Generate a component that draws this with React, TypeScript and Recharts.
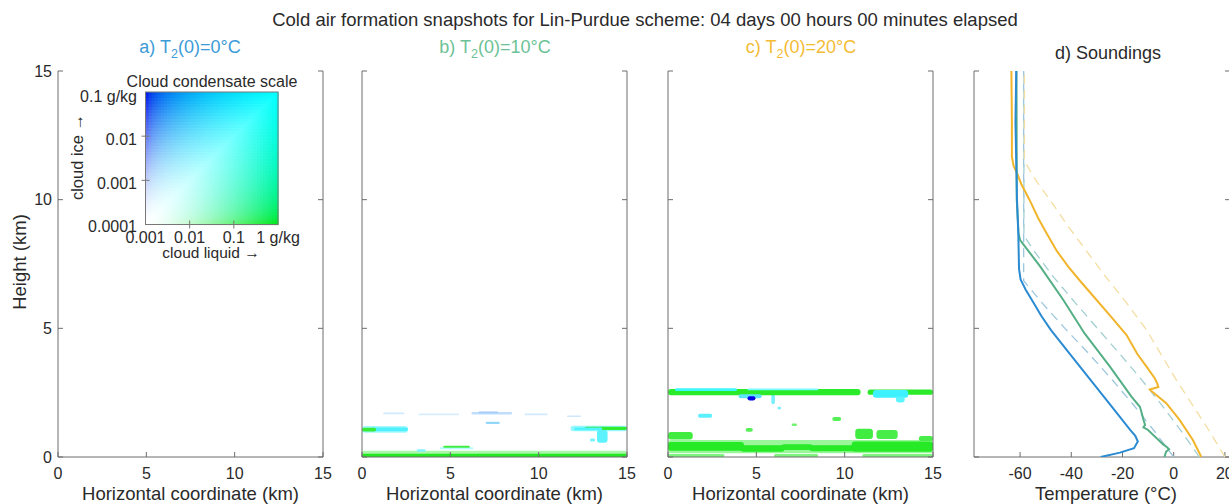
import React from 'react';
import { ScatterChart, Scatter, XAxis, YAxis, ReferenceArea } from 'recharts';

const FONT = '"Liberation Sans", Arial, Helvetica, sans-serif';
const AXIS = '#6d6d6d';
const INK = '#2a2a2a';

const xTicks = [0, 5, 10, 15];
const zTicks = [0, 5, 10, 15];
const tTicks = [-60, -40, -20, 0, 20];

// soundings: height (km) and temperature (°C)
const zBlue = [0, 0.17, 0.34, 0.6, 0.82, 1.05, 2, 3, 4, 4.94, 5.5, 6, 6.5, 6.9, 7.3, 8.7, 10, 12, 13, 15];
const tBlue = [-28.5, -21, -15.5, -14, -15, -17, -24.5, -32.5, -40.5, -48, -51.8, -54.8, -57.8, -59.8, -60.4, -60.7, -61.2, -61.6, -61.8, -61.5];

const zGreen = [0, 0.2, 0.3, 0.38, 0.5, 1.05, 1.15, 1.25, 1.45, 1.75, 1.95, 2.35, 3.51, 4.8, 6.1, 7.4, 8.43, 8.69, 10, 15];
const tGreen = [-3.6, -3.0, -1.8, -2.6, -4.2, -10, -11.8, -11.2, -11.8, -12.6, -13.2, -16.5, -24.9, -34.8, -43.1, -52.1, -60, -60.6, -61.3, -61.4];

const zYellow = [0, 0.66, 1.44, 2.09, 2.55, 2.62, 2.72, 2.85, 3.06, 3.51, 4.0, 4.74, 5.4, 6.1, 6.8, 7.4, 8.0, 8.69, 9.3, 9.99, 10.6, 11.03, 11.3, 11.67, 13, 15];
const tYellow = [10.8, 7.5, 2.3, -2.9, -8.6, -9.3, -6.0, -6.4, -7.4, -10.6, -14.2, -18.4, -24, -30.1, -36.2, -41.2, -45.6, -49.6, -53, -56.3, -59.5, -61.2, -62.5, -63.2, -63.2, -63.4];

// initial soundings (dashed)
const zBlue0 = [0, 1, 2, 3, 4, 5, 6, 6.85, 15];
const tBlue0 = [0, -7.5, -15.5, -24, -33, -42.5, -51.5, -58.6, -58.6];
const zGreen0 = [0, 1, 2, 3, 4, 5, 6, 7, 8, 8.6, 15];
const tGreen0 = [10, 3, -4.5, -12.5, -21, -29.8, -38.5, -47, -54.5, -58.5, -58.5];
const zYellow0 = [0, 1, 2, 3, 4, 4.94, 6, 7, 8, 9, 9.8, 10.7, 11.5, 15];
const tYellow0 = [20, 14, 7.5, 1, -5, -10.6, -18.5, -26.5, -34, -41.5, -47, -53.5, -58.3, -58.3];

// cloud patches: [x1 km, x2 km, z1 km, z2 km, liquid g/kg, ice g/kg]
const cloudsB: number[][] = [
  [0, 15, 0.08, 0.24, 0.02, 0],
  [0, 15, 0, 0.13, 0.5, 0],
  [3.1, 3.6, 0.2, 0.3, 0.02, 0.006],
  [4.4, 6.3, 0.3, 0.38, 0.015, 0.002],
  [4.6, 6.1, 0.36, 0.44, 0.25, 0],
  [0, 2.6, 0.94, 1.2, 0.015, 0.003],
  [0.5, 2.6, 1.0, 1.15, 0.06, 0.02],
  [0, 0.8, 0.99, 1.14, 0.3, 0],
  [11.8, 15, 1.0, 1.21, 0.02, 0.004],
  [12.6, 15, 1.05, 1.18, 0.35, 0],
  [12.0, 13.6, 1.04, 1.15, 0.08, 0.02],
  [13.3, 13.9, 0.55, 1.05, 0.05, 0.015],
  [12.9, 13.2, 0.6, 0.72, 0.03, 0.008],
  [1.2, 2.4, 1.66, 1.73, 0.0015, 0.0007],
  [3.2, 5.5, 1.62, 1.69, 0.0015, 0.0006],
  [6.2, 8.5, 1.65, 1.75, 0.0015, 0.0012],
  [6.6, 7.7, 1.7, 1.77, 0.0015, 0.0025],
  [9.2, 10.5, 1.62, 1.69, 0.0015, 0.0007],
  [11.6, 12.4, 1.55, 1.61, 0.0015, 0.0008],
  [7.0, 7.8, 1.28, 1.37, 0.003, 0.004],
];

const cloudsC: number[][] = [
  [0, 15, 0.15, 0.66, 0.03, 0],
  [0, 3.2, 0, 0.12, 0.06, 0],
  [6.0, 8.5, 0, 0.12, 0.06, 0],
  [11, 15, 0, 0.12, 0.06, 0],
  [0, 4.3, 0.24, 0.58, 0.45, 0],
  [4.1, 6.6, 0.2, 0.46, 0.45, 0],
  [6.4, 8.2, 0.27, 0.5, 0.4, 0],
  [8.0, 10.6, 0.22, 0.46, 0.45, 0],
  [10.4, 15, 0.2, 0.6, 0.45, 0],
  [0, 1.4, 0.68, 0.97, 0.25, 0],
  [10.6, 11.6, 0.7, 1.1, 0.25, 0],
  [11.8, 13.0, 0.7, 1.05, 0.2, 0],
  [14.2, 15, 0.62, 0.82, 0.2, 0],
  [4.4, 4.8, 0.98, 1.13, 0.15, 0],
  [7.0, 7.3, 1.2, 1.3, 0.08, 0],
  [9.3, 9.8, 1.4, 1.55, 0.15, 0],
  [1.7, 2.5, 1.53, 1.68, 0.04, 0.015],
  [6.2, 6.4, 1.85, 1.95, 0.02, 0.008],
  [5.85, 6.05, 2.05, 2.45, 0.02, 0.008],
  [0, 10.9, 2.4, 2.64, 0.4, 0],
  [11.3, 15, 2.42, 2.62, 0.4, 0],
  [0.4, 3.9, 2.56, 2.67, 0.15, 0.03],
  [4.5, 8.5, 2.59, 2.66, 0.06, 0.008],
  [11.6, 13.6, 2.3, 2.6, 0.1, 0.03],
  [12.9, 13.4, 2.12, 2.35, 0.06, 0.015],
  [4.0, 5.3, 2.28, 2.44, 0.02, 0.015],
  [4.5, 4.95, 2.2, 2.36, 0.001, 0.1],
];

const pts = (z: number[], t: number[]) => z.map((v, i) => ({ z: v, t: t[i] }));

// 2-D colour scale: liquid -> green, ice -> blue, both -> cyan
const hsv = (h: number, s: number, v: number) => {
  const f = (n: number) => {
    const k = (n + h / 60) % 6;
    return v - v * s * Math.max(0, Math.min(k, 4 - k, 1));
  };
  return [f(5), f(3), f(1)];
};
const mixColor = (a: number, b: number) => {
  const s = Math.pow(Math.max(a, b), 1.4);
  const pa = Math.pow(a, 0.6), pb = Math.pow(b, 0.6);
  const h = a + b > 0 ? 120 + (120 * pb) / (pa + pb) : 180;
  const v = 1 - 0.1 * s * Math.abs(h - 180) / 60;
  const [r, g, bl] = hsv(h, s, v);
  return `rgb(${Math.round(r * 255)},${Math.round(g * 255)},${Math.round(bl * 255)})`;
};
const norm = (q: number, lo: number) =>
  Math.min(1, Math.max(0, (Math.log10(Math.max(q, 1e-9)) - lo) / 3));
const condColor = (ql: number, qi: number) => mixColor(norm(ql, -3), norm(qi, -4));

const Blob = (p: any) => {
  const { x, y, width, height, fill } = p;
  if (!(width > 0) || !(height > 0)) return null;
  return (
    <rect x={x} y={y} width={width} height={height} rx={Math.min(height / 2, width / 2, 3)}
      fill={fill} filter="url(#soft)" />
  );
};

const tickStyle = { fontSize: 16, fill: INK };
const blank = () => '';

function CloudPanel({ left, width, leftW, rightW, labels, clouds }: any) {
  return (
    <div style={{ position: 'absolute', left, top: 0 }}>
      <ScatterChart width={width} height={504} margin={{ top: 71, right: 0, bottom: 0, left: 0 }}>
        <XAxis type="number" dataKey="x" domain={[0, 15]} ticks={xTicks} height={47}
          stroke={AXIS} tick={tickStyle} tickSize={-5} tickMargin={16} allowDataOverflow />
        <YAxis type="number" dataKey="z" domain={[0, 15]} ticks={zTicks} width={leftW}
          stroke={AXIS} tick={tickStyle} tickSize={-5} tickMargin={11}
          tickFormatter={labels ? undefined : blank} allowDataOverflow />
        <YAxis yAxisId="r" orientation="right" type="number" domain={[0, 15]} ticks={zTicks} width={rightW}
          stroke={AXIS} tick={tickStyle} tickSize={-5} tickFormatter={blank} allowDataOverflow />
        {clouds.map((c: number[], i: number) => (
          <ReferenceArea key={i} x1={c[0]} x2={c[1]} y1={c[2]} y2={c[3]}
            fill={condColor(c[4], c[5])} fillOpacity={1} stroke="none" shape={Blob} />
        ))}
      </ScatterChart>
    </div>
  );
}

const NoDot = () => <g />;

function SoundingPanel() {
  const series = [
    { d: pts(zBlue0, tBlue0), c: '#9cc7de', w: 1.3, dash: '9 6' },
    { d: pts(zGreen0, tGreen0), c: '#a3cfd2', w: 1.3, dash: '9 6' },
    { d: pts(zYellow0, tYellow0), c: '#f4dea2', w: 1.3, dash: '9 6' },
    { d: pts(zYellow, tYellow), c: '#f1b52c', w: 2 },
    { d: pts(zGreen, tGreen), c: '#55af85', w: 2 },
    { d: pts(zBlue, tBlue), c: '#2b8bd2', w: 2 },
  ];
  return (
    <div style={{ position: 'absolute', left: 960, top: 0 }}>
      <ScatterChart width={290} height={504} margin={{ top: 71, right: 0, bottom: 0, left: 0 }}>
        <XAxis type="number" dataKey="t" domain={[-78, 22]} ticks={tTicks} height={47}
          stroke={AXIS} tick={tickStyle} tickSize={-5} tickMargin={16} allowDataOverflow />
        <XAxis xAxisId="top" orientation="top" type="number" domain={[-78, 22]} ticks={tTicks} height={0}
          stroke={AXIS} tick={tickStyle} tickSize={-5} tickFormatter={blank} allowDataOverflow />
        <YAxis type="number" dataKey="z" domain={[0, 15]} ticks={zTicks} width={14}
          stroke={AXIS} tick={tickStyle} tickSize={-5} tickFormatter={blank} allowDataOverflow />
        <YAxis yAxisId="r" orientation="right" type="number" domain={[0, 15]} ticks={zTicks} width={20}
          stroke={AXIS} tick={tickStyle} tickSize={-5} tickFormatter={blank} allowDataOverflow />
        {series.map((s, i) => (
          <Scatter key={i} data={s.d} fill={s.c} shape={NoDot} isAnimationActive={false}
            line={{ stroke: s.c, strokeWidth: s.w, strokeDasharray: s.dash }} />
        ))}
      </ScatterChart>
    </div>
  );
}

function ScaleKey() {
  const N = 44, LX = 145.5, LY = 92, LS = 132.5, cs = LS / N;
  const cells = [];
  for (let j = 0; j < N; j++) {
    for (let i = 0; i < N; i++) {
      cells.push(
        <rect key={j * N + i} x={LX + i * cs} y={LY + j * cs} width={cs + 0.6} height={cs + 0.6}
          fill={mixColor((i + 0.5) / N, 1 - (j + 0.5) / N)} />
      );
    }
  }
  const yl = ['0.1 g/kg', '0.01', '0.001', '0.0001'];
  const xl = ['0.001', '0.01', '0.1', '1 g/kg'];
  return (
    <g fontSize={16} fill={INK}>
      <text x={212} y={87} textAnchor="middle">Cloud condensate scale</text>
      {cells}
      <rect x={LX} y={LY} width={LS} height={LS} fill="none" stroke="#777" strokeWidth={1} />
      {yl.map((s, k) => (
        <g key={s}>
          <text x={137} y={LY + (k * LS) / 3 + 8.5 + (k === 0 ? 1 : 0) + (k === 3 ? -1 : 0)} textAnchor="end">{s}</text>
          {k > 0 && k < 3 && <line x1={LX - 4} x2={LX + 4} y1={LY + (k * LS) / 3} y2={LY + (k * LS) / 3} stroke="#777" />}
        </g>
      ))}
      {xl.map((s, k) => (
        <g key={s}>
          <text x={LX + (k * LS) / 3} y={243} textAnchor="middle">{s}</text>
          {k > 0 && k < 3 && <line x1={LX + (k * LS) / 3} x2={LX + (k * LS) / 3} y1={LY + LS - 4} y2={LY + LS + 4} stroke="#777" />}
        </g>
      ))}
      <text x={211} y={258} textAnchor="middle" fontSize={15.5}>cloud liquid →</text>
      <text transform="translate(83,157) rotate(-90)" textAnchor="middle" fontSize={16.5}>cloud ice →</text>
    </g>
  );
}

const Title = ({ x, y, color, pre, post }: any) => (
  <text x={x} y={y} textAnchor="middle" fill={color} fontSize={18}>
    <tspan>{pre}</tspan>
    <tspan dy={5} fontSize={12.5}>2</tspan>
    <tspan dy={-5}>{post}</tspan>
  </text>
);

export default function App() {
  return (
    <div style={{ position: 'absolute', left: 0, top: 0, width: 1229, height: 504, overflow: 'hidden', background: '#fff', fontFamily: FONT }}>
      <svg width={0} height={0} style={{ position: 'absolute' }}>
        <defs>
          <filter id="soft" x="-20%" y="-50%" width="140%" height="200%">
            <feGaussianBlur stdDeviation="0.7" />
          </filter>
        </defs>
      </svg>
      <CloudPanel left={0} width={340} leftW={58} rightW={17} labels clouds={[]} />
      <CloudPanel left={340} width={300} leftW={22} rightW={13} labels={false} clouds={cloudsB} />
      <CloudPanel left={646} width={300} leftW={22} rightW={13} labels={false} clouds={cloudsC} />
      <SoundingPanel />
      <svg width={1229} height={504} style={{ position: 'absolute', left: 0, top: 0, pointerEvents: 'none' }}>
        <text x={645} y={26} textAnchor="middle" fontSize={18.5} fill={INK}>
          Cold air formation snapshots for Lin-Purdue scheme: 04 days 00 hours 00 minutes elapsed
        </text>
        <Title x={190} y={53} color="#3c9bd7" pre="a) T" post="(0)=0°C" />
        <Title x={495} y={53} color="#6cc296" pre="b) T" post="(0)=10°C" />
        <Title x={801} y={53} color="#f3bc35" pre="c) T" post="(0)=20°C" />
        <text x={1108} y={59} textAnchor="middle" fontSize={18} fill={INK}>d) Soundings</text>
        <text transform="translate(26,262) rotate(-90)" textAnchor="middle" fontSize={18.5} fill={INK}>Height (km)</text>
        {[190.5, 494.5, 800.5].map((x) => (
          <text key={x} x={x} y={500} textAnchor="middle" fontSize={18.5} fill={INK}>Horizontal coordinate (km)</text>
        ))}
        <text x={1106} y={500} textAnchor="middle" fontSize={18.5} fill={INK}>Temperature (°C)</text>
        <ScaleKey />
      </svg>
    </div>
  );
}
